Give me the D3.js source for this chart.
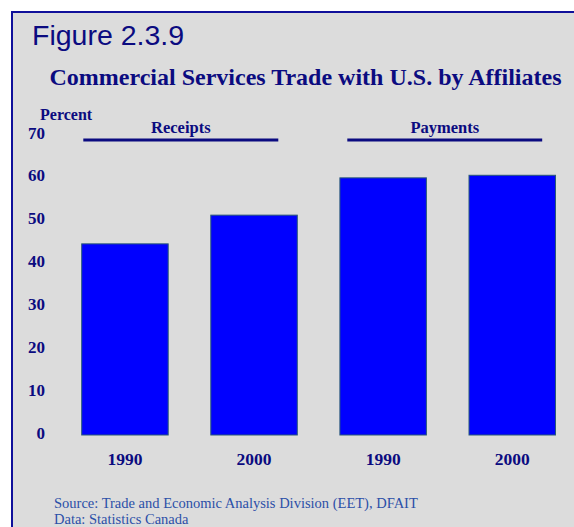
<!DOCTYPE html>
<html><head><meta charset="utf-8">
<script src="https://cdn.jsdelivr.net/npm/d3@7"></script>
<style>html,body{margin:0;padding:0;background:#fff;}svg{display:block;}</style>
</head><body>
<svg id="c" width="574" height="527"></svg>
<script>
const categories = ["1990", "2000", "1990", "2000"];
const values = [44.6, 51.3, 60.0, 60.6];
const groups = ["Receipts", "Payments"];
const yTicks = [0, 10, 20, 30, 40, 50, 60, 70];

const svg = d3.select("#c");
const navy = "#0b0b80";
const serif = "'Liberation Serif','Times New Roman',serif";

svg.append("rect").attr("x", 12).attr("y", 12).attr("width", 570).attr("height", 530)
  .attr("fill", "#dcdcdc").attr("stroke", "#10109a").attr("stroke-width", 2);

svg.append("text").attr("x", 32).attr("y", 45)
  .attr("font-family", "'Liberation Sans',Arial,sans-serif").attr("font-size", 28.5)
  .attr("fill", navy).text("Figure 2.3.9");

svg.append("text").attr("x", 305.5).attr("y", 85).attr("text-anchor", "middle")
  .attr("font-family", serif).attr("font-weight", "bold").attr("font-size", 24)
  .attr("fill", navy).text("Commercial Services Trade with U.S. by Affiliates");

const x = d3.scaleBand().domain(d3.range(categories.length))
  .range([60.4, 576.8]).paddingInner(0.33).paddingOuter(0.165);
const y = d3.scaleLinear().domain([0, 70]).range([435, 135]);

svg.append("text").attr("x", 40).attr("y", 120)
  .attr("font-family", serif).attr("font-weight", "bold").attr("font-size", 16)
  .attr("fill", navy).text("Percent");

svg.append("g").selectAll("text").data(yTicks).join("text")
  .attr("x", 45).attr("y", d => y(d) + 3.5).attr("text-anchor", "end")
  .attr("font-family", serif).attr("font-weight", "bold").attr("font-size", 17)
  .attr("fill", navy).text(d => d);

svg.append("g").selectAll("rect").data(values).join("rect")
  .attr("x", (d, i) => x(i)).attr("width", x.bandwidth())
  .attr("y", d => y(d)).attr("height", d => y(0) - y(d))
  .attr("fill", "#0000ff").attr("stroke", "#2a5a78").attr("stroke-width", 1);

svg.append("g").selectAll("text").data(categories).join("text")
  .attr("x", (d, i) => x(i) + x.bandwidth() / 2).attr("y", 465).attr("text-anchor", "middle")
  .attr("font-family", serif).attr("font-weight", "bold").attr("font-size", 17.5)
  .attr("fill", navy).text(d => d);

// group annotations
const gInfo = groups.map((g, k) => {
  const a = x(2 * k), b = x(2 * k + 1) + x.bandwidth();
  return { g, a: a + (k === 0 ? 1.6 : 7.4), b: b - (k === 0 ? 19 : 13.3) };
});
svg.append("g").selectAll("line").data(gInfo).join("line")
  .attr("x1", d => d.a).attr("x2", d => d.b).attr("y1", 140).attr("y2", 140)
  .attr("stroke", navy).attr("stroke-width", 3);
svg.append("g").selectAll("text").data(gInfo).join("text")
  .attr("x", d => (d.a + d.b) / 2).attr("y", 133).attr("text-anchor", "middle")
  .attr("font-family", serif).attr("font-weight", "bold").attr("font-size", 16.5)
  .attr("fill", navy).text(d => d.g);

svg.append("text").attr("x", 54).attr("y", 508)
  .attr("font-family", serif).attr("font-size", 14.5).attr("fill", "#2b4fa8")
  .text("Source: Trade and Economic Analysis Division (EET), DFAIT");
svg.append("text").attr("x", 54).attr("y", 523.5)
  .attr("font-family", serif).attr("font-size", 14.5).attr("fill", "#2b4fa8")
  .text("Data: Statistics Canada");
</script>
</body></html>
